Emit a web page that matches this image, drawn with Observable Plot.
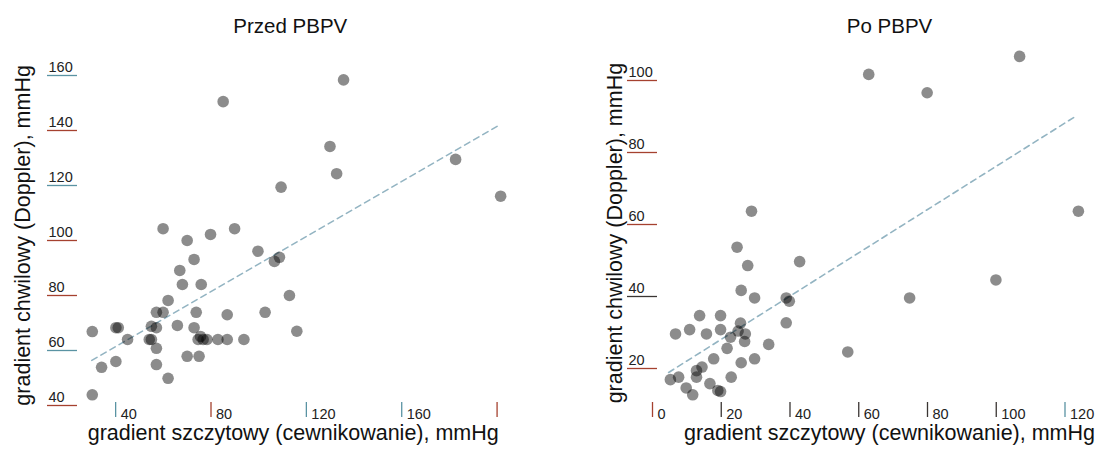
<!DOCTYPE html>
<html>
<head>
<meta charset="utf-8">
<script src="https://cdn.jsdelivr.net/npm/d3@7"></script>
<script src="https://cdn.jsdelivr.net/npm/@observablehq/plot@0.6"></script>
<style>
  html, body { margin: 0; padding: 0; background: #fff; }
  #wrap { display: flex; width: 1098px; height: 450px; }
  #wrap > div { width: 549px; height: 450px; }
</style>
</head>
<body>
<div id="wrap"><div id="left"></div><div id="right"></div></div>
<script>
// ---------- DATA ----------
const titles = ["Przed PBPV", "Po PBPV"];
const xLabel = "gradient szczytowy (cewnikowanie), mmHg";
const yLabel = "gradient chwilowy (Doppler), mmHg";

// Przed PBPV (before)
const beforeX = [59.9,70.0,79.8,89.9,109.4,72.9,99.7,106.6,108.7,66.9,68.0,75.9,62.0,112.9,57.1,59.9,73.8,86.8,102.7,30.2,40.1,41.1,55.0,57.1,65.9,72.9,116.0,45.0,54.1,55.0,57.1,75.6,76.7,74.6,78.3,82.9,86.8,93.8,70.0,75.0,40.1,34.1,57.1,62.0,30.2,135.6,85.1,129.9,132.7,182.6,201.5];
const beforeY = [104.3,100.0,102.2,104.3,119.4,93.1,96.1,92.4,93.9,89.1,84.0,84.0,78.2,80.0,73.9,73.9,73.9,73.0,73.9,66.9,68.3,68.3,68.8,68.3,69.1,68.3,67.0,64.0,64.0,64.0,60.8,65.1,64.0,64.0,64.0,64.0,64.0,64.0,57.9,57.9,56.0,53.9,54.9,49.9,43.9,158.4,150.5,134.2,124.3,129.5,116.1];
const beforeFitX = [30, 200];
const beforeFitY = [56.4, 141.5];
const beforeXTicks = [40, 80, 120, 160, 200];
const beforeXTickLabels = ["40", "80", "120", "160", ""];
const beforeYTicks = [40, 60, 80, 100, 120, 140, 160];

// Po PBPV (after)
const afterX = [28.8,24.6,27.7,42.8,25.8,29.7,38.9,39.8,13.7,19.8,38.9,6.7,10.8,15.7,19.8,25.6,24.9,27.0,22.7,26.8,33.8,21.7,17.8,29.7,25.8,56.8,14.4,12.8,12.8,7.6,5.2,22.9,9.8,16.7,11.7,19.0,19.8,62.9,79.9,106.8,123.9,99.9,74.8];
const afterY = [63.7,53.7,48.6,49.7,41.7,39.6,39.6,38.7,34.7,34.7,32.7,29.6,30.8,29.6,30.8,32.6,30.4,29.6,28.7,27.5,26.7,25.6,22.7,22.7,21.6,24.6,20.4,19.4,17.6,17.6,16.9,17.6,14.6,15.8,12.7,13.9,13.6,101.7,96.6,106.7,63.7,44.6,39.6];
const afterFitX = [4.7, 123.5];
const afterFitY = [18.9, 90.3];
const afterXTicks = [0, 20, 40, 60, 80, 100, 120];
const afterYTicks = [20, 40, 60, 80, 100];

// ---------- STYLE ----------
const FONT = "'Liberation Sans', Arial, Helvetica, sans-serif";
const RED = "#a5412f", TEAL = "#5a93a3", DARK = "#3a3533";
const DOT = { r: 5.8, fill: "#000", fillOpacity: 0.45 };
const FIT = { stroke: "#93b4c2", strokeWidth: 1.6, strokeDasharray: "6,4.5" };

function tickColorAxes(axisFn, ticks, colorOf, opts) {
  const groups = d3.group(ticks, colorOf);
  return Array.from(groups, ([color, vals]) =>
    axisFn({ticks: vals, stroke: color, fill: "none", label: null, strokeWidth: 1.3, ...opts}));
}

function panel(cfg) {
  const pts = cfg.xs.map((x, i) => ({x, y: cfg.ys[i]}));
  const fit = cfg.fitX.map((x, i) => ({x, y: cfg.fitY[i]}));
  const labelMap = new Map(cfg.xTicks.map((t, i) => [t, cfg.xTickLabels ? cfg.xTickLabels[i] : String(t)]));
  return Plot.plot({
    width: 549, height: 450,
    marginLeft: cfg.mL, marginRight: cfg.mR, marginTop: cfg.mT, marginBottom: cfg.mB,
    x: {domain: cfg.xDomain},
    y: {domain: cfg.yDomain},
    style: {fontFamily: FONT, background: "#fff", color: "#222"},
    marks: [
      ...tickColorAxes(Plot.axisY, cfg.yTicks, cfg.yColor, {tickSize: 30, dx: cfg.yTickDx}),
      Plot.axisY({ticks: cfg.yTicks, tickSize: 0, tickPadding: cfg.yLabelPad, textAnchor: "start",
        dy: -8, fill: "#222", fontSize: 14.5, label: null}),
      ...tickColorAxes(Plot.axisX, cfg.xTicks, cfg.xColor, {tickSize: 15, dy: cfg.xTickDy}),
      Plot.axisX({ticks: cfg.xTicks, tickSize: 0, tickPadding: 0, textAnchor: "start",
        dx: 5, dy: cfg.xLabelDy, fill: "#222", fontSize: 14.5, label: null,
        tickFormat: d => labelMap.get(d)}),
      Plot.line(fit, {x: "x", y: "y", ...FIT}),
      Plot.dot(pts, {x: "x", y: "y", ...DOT}),
      Plot.text([cfg.title], {frameAnchor: "top", textAnchor: "middle", lineAnchor: "middle",
        dx: cfg.titleDx, dy: cfg.titleDy, fontSize: 20.5, fill: "#111"}),
      Plot.text([xLabel], {frameAnchor: "bottom", textAnchor: "middle", lineAnchor: "middle",
        dx: cfg.xlDx, dy: cfg.xlDy, fontSize: 21.5, fill: "#111"}),
      Plot.text([yLabel], {frameAnchor: "left", textAnchor: "middle", lineAnchor: "middle",
        rotate: -90, dx: cfg.ylDx, dy: cfg.ylDy, fontSize: 21.5, fill: "#111"})
    ]
  });
}

const left = panel({
  title: titles[0], xs: beforeX, ys: beforeY, fitX: beforeFitX, fitY: beforeFitY,
  xTicks: beforeXTicks, xTickLabels: beforeXTickLabels, yTicks: beforeYTicks,
  mL: 77, mR: 40.5, mT: 61.25, mB: 39.5,
  xDomain: [24, 205], yDomain: [38, 165],
  yColor: v => ({160: TEAL, 120: TEAL, 60: TEAL}[v] || RED),
  xColor: v => ({40: TEAL, 120: TEAL, 160: TEAL}[v] || RED),
  yTickDx: 0, yLabelPad: 29, xTickDy: -8.5, xLabelDy: -2.5,
  titleDx: -3, titleDy: -35, xlDx: 0, xlDy: 22, ylDx: -54, ylDy: -1
});

const right = panel({
  title: titles[1], xs: afterX, ys: afterY, fitX: afterFitX, fitY: afterFitY,
  xTicks: afterXTicks, yTicks: afterYTicks,
  mL: 103, mR: 6, mT: 44, mB: 38.8,
  xDomain: [0, 128], yDomain: [8, 110],
  yColor: v => (v === 40 ? DARK : RED),
  xColor: v => (v === 120 ? TEAL : v === 0 ? RED : DARK),
  yTickDx: 5, yLabelPad: 24, xTickDy: -9.2, xLabelDy: -3.2,
  titleDx: 17, titleDy: -18, xlDx: 17, xlDy: 21, ylDx: -37, ylDy: 5
});

document.getElementById("left").appendChild(left);
document.getElementById("right").appendChild(right);
</script>
</body>
</html>
